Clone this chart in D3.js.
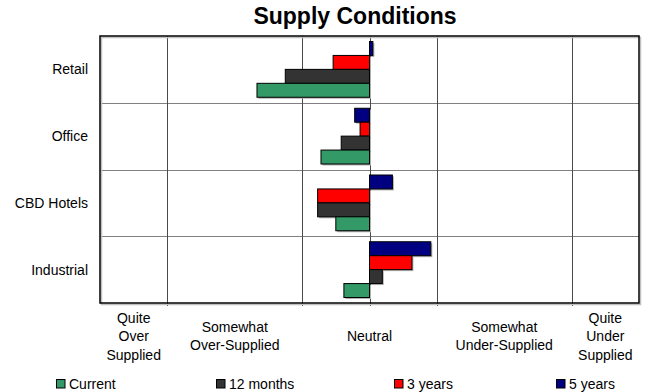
<!DOCTYPE html>
<html>
<head>
<meta charset="utf-8">
<script src="https://cdn.jsdelivr.net/npm/d3@7"></script>
<style>
  html, body { margin: 0; padding: 0; background: #fff; }
  svg { display: block; font-family: "Liberation Sans", Arial, sans-serif; }
</style>
</head>
<body>
<svg id="chart" width="666" height="392"></svg>
<script>
// Sectors (top to bottom)
const categories = ["Retail", "Office", "CBD Hotels", "Industrial"];
// Series drawn top to bottom inside each sector
const seriesNames = ["5 years", "3 years", "12 months", "Current"];
const fiveYears   = [0.05, -0.22, 0.34, 0.91];
const threeYears  = [-0.54, -0.14, -0.77, 0.63];
const twelveMonths = [-1.25, -0.42, -0.77, 0.19];
const current     = [-1.67, -0.72, -0.50, -0.38];
const seriesColors = ["#000080", "#ff0000", "#333333", "#339966"];
// Legend order (left to right)
const legendNames = ["Current", "12 months", "3 years", "5 years"];
const legendColors = ["#339966", "#333333", "#ff0000", "#000080"];
// Scale labels along the bottom
const scaleLabels = [
  { v: -3.5, lines: ["Quite", "Over", "Supplied"] },
  { v: -2,   lines: ["Somewhat", "Over-Supplied"] },
  { v: 0,    lines: ["Neutral"] },
  { v: 2,    lines: ["Somewhat", "Under-Supplied"] },
  { v: 3.5,  lines: ["Quite", "Under", "Supplied"] }
];
const gridValues = [-3, -1, 0, 1, 3];

const seriesValues = [fiveYears, threeYears, twelveMonths, current];

const svg = d3.select("#chart");
const plotLeft = 100, plotRight = 639, plotTop = 36, plotBottom = 303;

const x = d3.scaleLinear().domain([-4, 4]).range([plotLeft, plotRight]);
const y = d3.scaleBand().domain(categories).range([plotTop, plotBottom]);
const y1 = d3.scaleBand().domain(seriesNames).range([5.5, y.bandwidth() - 5.5]);

// Title
svg.append("text")
  .attr("x", 355).attr("y", 24)
  .attr("text-anchor", "middle")
  .attr("font-size", 23).attr("font-weight", "bold")
  .text("Supply Conditions");

// Horizontal separators between sectors
svg.append("g").selectAll("line")
  .data(categories.slice(1))
  .join("line")
  .attr("x1", plotLeft).attr("x2", plotRight)
  .attr("y1", d => Math.round(y(d)) + 0.5).attr("y2", d => Math.round(y(d)) + 0.5)
  .attr("stroke", "#808080").attr("stroke-width", 1);

// Vertical grid lines with small ticks below the plot
svg.append("g").selectAll("line")
  .data(gridValues)
  .join("line")
  .attr("x1", d => Math.round(x(d)) + 0.5).attr("x2", d => Math.round(x(d)) + 0.5)
  .attr("y1", plotTop).attr("y2", plotBottom + 3)
  .attr("stroke", "#4a4a4a").attr("stroke-width", 1);

function barX(v) { return Math.min(x(0), x(v)); }
function barW(v) { return Math.abs(x(v) - x(0)); }

const barGroups = svg.append("g").selectAll("g")
  .data(seriesValues)
  .join("g");

// Bar shadows
barGroups.each(function (vals, si) {
  d3.select(this).selectAll("rect.shadow")
    .data(vals)
    .join("rect")
    .attr("class", "shadow")
    .attr("x", v => barX(v) + 1.5)
    .attr("y", (v, i) => y(categories[i]) + y1(seriesNames[si]) + 1.5)
    .attr("width", v => barW(v))
    .attr("height", y1.bandwidth())
    .attr("fill", "#b0b0b0");
});

// Bars
barGroups.each(function (vals, si) {
  d3.select(this).selectAll("rect.bar")
    .data(vals)
    .join("rect")
    .attr("class", "bar")
    .attr("x", v => barX(v))
    .attr("y", (v, i) => y(categories[i]) + y1(seriesNames[si]))
    .attr("width", v => barW(v))
    .attr("height", y1.bandwidth())
    .attr("fill", seriesColors[si])
    .attr("stroke", "#000").attr("stroke-width", 1);
});

// Plot border with a light shadow
svg.append("rect")
  .attr("x", plotLeft + 1.5).attr("y", plotTop + 1.5)
  .attr("width", plotRight - plotLeft).attr("height", plotBottom - plotTop)
  .attr("fill", "none").attr("stroke", "#c0c0c0").attr("stroke-width", 1.5);
svg.append("rect")
  .attr("x", plotLeft).attr("y", plotTop)
  .attr("width", plotRight - plotLeft).attr("height", plotBottom - plotTop)
  .attr("fill", "none").attr("stroke", "#000").attr("stroke-width", 1.5);

// Sector labels
svg.append("g").selectAll("text")
  .data(categories)
  .join("text")
  .attr("x", 88)
  .attr("y", d => y(d) + y.bandwidth() / 2 + 5)
  .attr("text-anchor", "end")
  .attr("font-size", 14)
  .text(d => d);

// Scale labels
const lineGap = 18.5;
const lab = svg.append("g").selectAll("text")
  .data(scaleLabels)
  .join("text")
  .attr("text-anchor", "middle")
  .attr("font-size", 14)
  .attr("x", d => x(d.v))
  .attr("y", d => 341 - (d.lines.length - 1) * lineGap / 2);
lab.selectAll("tspan")
  .data(d => d.lines.map(t => ({ t, v: d.v })))
  .join("tspan")
  .attr("x", d => x(d.v))
  .attr("dy", (d, i) => i === 0 ? 0 : lineGap)
  .text(d => d.t);

// Legend
const legendX = [56, 216, 394, 556];
const leg = svg.append("g").selectAll("g")
  .data(legendNames)
  .join("g")
  .attr("transform", (d, i) => `translate(${legendX[i]},379)`);
leg.append("rect")
  .attr("x", 0.5).attr("y", 0.5).attr("width", 8.5).attr("height", 8.5)
  .attr("fill", (d, i) => legendColors[i])
  .attr("stroke", "#000").attr("stroke-width", 1);
leg.append("text")
  .attr("x", 13).attr("y", 10)
  .attr("font-size", 14)
  .text(d => d);
</script>
</body>
</html>
